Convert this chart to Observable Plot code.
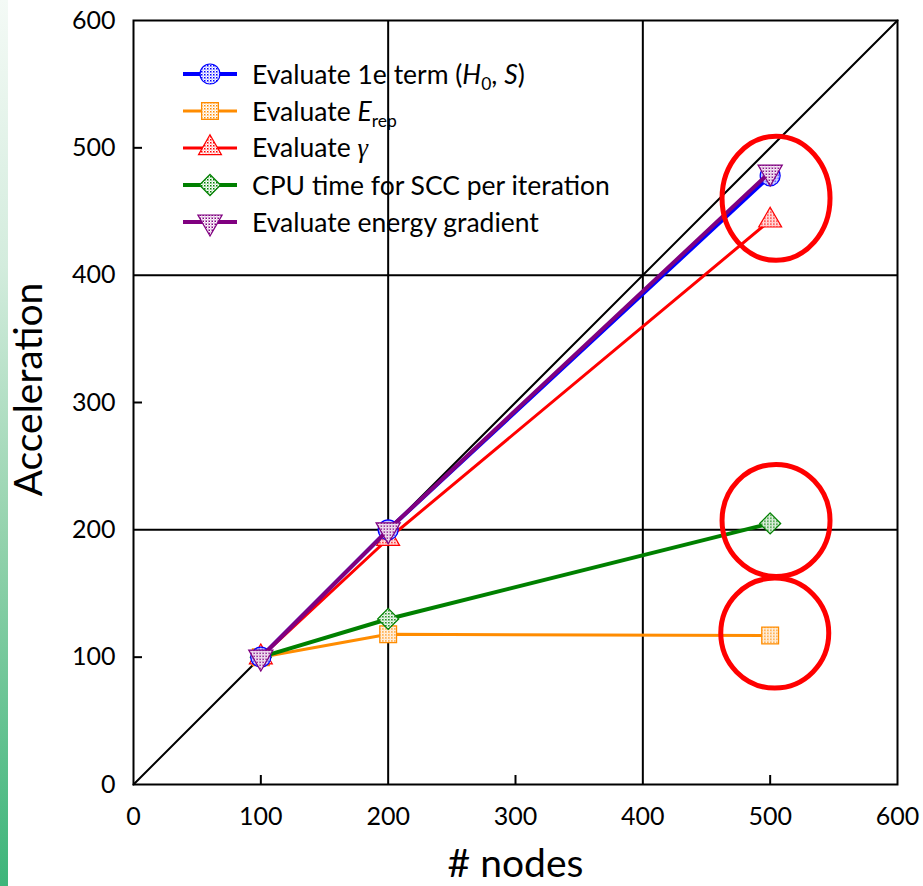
<!DOCTYPE html>
<html><head><meta charset="utf-8">
<script src="https://cdn.jsdelivr.net/npm/d3@7"></script>
<script src="https://cdn.jsdelivr.net/npm/@observablehq/plot@0.6"></script>
<style>
body{margin:0;background:#fff;}
#wrap{position:relative;width:923px;height:886px;overflow:hidden;background:#fff;}
#strip{position:absolute;left:0;top:0;width:8px;height:886px;background:linear-gradient(to bottom,#f4faf6 0%,#d3ecdd 30%,#95d3ae 60%,#3db57a 100%);}
#legend{position:absolute;left:183px;top:55px;font-family:Lato;font-size:26.5px;color:#000;}
.row{display:flex;align-items:center;height:37px;white-space:nowrap;}
.row svg{width:54px;height:36px;margin-right:15px;overflow:visible;flex:none;}
.sub{font-size:0.66em;position:relative;top:0.35em;}
</style>
</head><body>
<div id="wrap"><div id="strip"></div><div id="chart"></div><div id="legend"></div></div>
<script>
// ---- data ----
const nodes = [100, 200, 500];
const oneE = [100, 200, 478];
const eRep = [100, 118, 117];
const gamma = [100, 193, 443];
const cpuScc = [100, 130, 205];
const gradient = [100, 200, 481];
const seriesValues = [oneE, eRep, gamma, cpuScc, gradient];
const seriesLabels = [
  'Evaluate 1e term (<i>H</i><span class="sub">0</span>, <i>S</i>)',
  'Evaluate <i>E</i><span class="sub">rep</span>',
  'Evaluate <i style="font-family:\'Liberation Serif\'">γ</i>',
  'CPU time for SCC per iteration',
  'Evaluate energy gradient'
];
const xTicks = [0, 100, 200, 300, 400, 500, 600];
const yTicks = [0, 100, 200, 300, 400, 500, 600];
const gridLines = [200, 400];
const minorTicks = [100, 300, 500];
const diagonal = [0, 600];
const highlightX = [505, 505, 504];
const highlightY = [460, 207, 118.5];
const highlightRx = [42.4, 42.4, 42.4];
const highlightRy = [48.7, 44, 43.2];

// ---- styles ----
const colors = ["#0000ff", "#ff8c00", "#ff0000", "#008000", "#800080"];
const symbols = ["circle", "square", "triangle", "diamond2", "triangle"];
const rotates = [0, 0, 0, 0, 180];
const radii = [10, 9.5, 8.5, 9.5, 9];
const widths = [4, 3, 3, 4, 4];
const drawOrder = [1, 3, 2, 0, 4];

const seriesRows = seriesValues.map((vals, s) => nodes.map((n, j) => ({x: n, y: vals[j], s})));
const highlightRows = highlightX.map((x, i) => ({x, y: highlightY[i], rx: highlightRx[i], ry: highlightRy[i]}));

const marks = [
  Plot.ruleX(gridLines, {stroke: "black", strokeWidth: 2}),
  Plot.ruleY(gridLines, {stroke: "black", strokeWidth: 2}),
  Plot.ruleX(minorTicks, {x: d => d, y1: 0, y2: 0, insetTop: -9, stroke: "black", strokeWidth: 2}),
  Plot.ruleY(minorTicks, {y: d => d, x1: 0, x2: 0, insetRight: -9, stroke: "black", strokeWidth: 2}),
  Plot.line(diagonal.map(v => [v, v]), {stroke: "black", strokeWidth: 2})
];
for (const s of drawOrder) {
  marks.push(Plot.line(seriesRows[s], {x: "x", y: "y", stroke: colors[s], strokeWidth: widths[s]}));
  marks.push(Plot.dot(seriesRows[s], {x: "x", y: "y", symbol: symbols[s], r: radii[s], rotate: rotates[s],
    stroke: colors[s], strokeWidth: 1.2, fill: `url(#pat${s})`}));
}
marks.push(Plot.dot(highlightRows, {x: "x", y: "y", render(index, scales) {
  const g = d3.create("svg:g");
  for (const i of index) {
    const d = highlightRows[i];
    const cx = scales.x(d.x), cy = scales.y(d.y);
    const rx = Math.abs(scales.x(d.x + d.rx) - cx), ry = Math.abs(scales.y(d.y + d.ry) - cy);
    g.append("ellipse").attr("cx", cx).attr("cy", cy).attr("rx", rx).attr("ry", ry)
      .attr("fill", "none").attr("stroke", "#ff0000").attr("stroke-width", 5);
  }
  return g.node();
}}));
marks.push(
  Plot.frame({stroke: "black", strokeWidth: 2}),
  Plot.axisX(xTicks, {tickSize: 0, tickPadding: 23, fontSize: 25, fontFamily: "Lato", label: null}),
  Plot.axisY(yTicks, {tickSize: 0, tickPadding: 18, fontSize: 25, fontFamily: "Lato", label: null}),
  Plot.text(["# nodes"], {frameAnchor: "bottom", dy: 92, fontSize: 39, fontFamily: "Lato", textAnchor: "middle"}),
  Plot.text(["Acceleration"], {frameAnchor: "left", textAnchor: "middle", rotate: -90, dx: -104, dy: -13, fontSize: 39, fontFamily: "Lato"})
);

const chart = Plot.plot({
  width: 923, height: 886,
  marginLeft: 133, marginRight: 26, marginTop: 20, marginBottom: 102,
  x: {domain: [0, 600]},
  y: {domain: [0, 600]},
  style: {background: "transparent", color: "black", fontFamily: "Lato"},
  marks
});
// make sure tick label fonts apply
d3.select(chart).selectAll('g[aria-label="x-axis tick label"], g[aria-label="y-axis tick label"]')
  .attr("font-size", 25).attr("font-family", "Lato");
// stipple patterns
const defs = d3.select(chart).insert("defs", ":first-child");
colors.forEach((c, s) => {
  const p = defs.append("pattern").attr("id", `pat${s}`).attr("patternUnits", "userSpaceOnUse").attr("width", 3).attr("height", 3);
  p.append("rect").attr("width", 3).attr("height", 3).attr("fill", "white");
  p.append("rect").attr("width", 1.5).attr("height", 1.5).attr("fill", c);
  p.append("rect").attr("x", 1.5).attr("y", 1.5).attr("width", 1).attr("height", 1).attr("fill", c).attr("opacity", 0.6);
});
document.getElementById("chart").append(chart);

// legend
const legend = d3.select("#legend");
const symMap = {circle: d3.symbolCircle, square: d3.symbolSquare, triangle: d3.symbolTriangle, diamond2: d3.symbolDiamond2};
seriesLabels.forEach((lab, s) => {
  const row = legend.append("div").attr("class", "row");
  const svg = row.append("svg").attr("viewBox", "0 0 54 36");
  svg.append("line").attr("x1", 0).attr("x2", 54).attr("y1", 18).attr("y2", 18).attr("stroke", colors[s]).attr("stroke-width", widths[s]);
  svg.append("path").attr("d", d3.symbol(symMap[symbols[s]], Math.PI * radii[s] * radii[s])())
    .attr("transform", `translate(27,18) rotate(${rotates[s]})`)
    .attr("fill", `url(#pat${s})`).attr("stroke", colors[s]).attr("stroke-width", 1.2);
  row.append("span").html(lab);
});
</script>
</body></html>
